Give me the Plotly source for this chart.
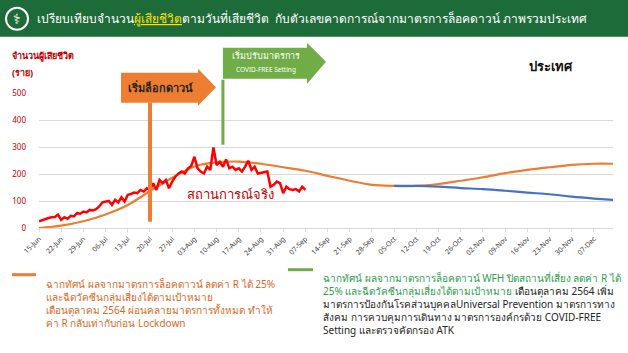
import plotly.graph_objects as go
import pandas as pd

# ---------------- data ----------------
actual_start = "2021-06-15"
actual_deaths = [25, 30, 34, 37, 40, 41, 50, 30, 40, 34, 45, 43, 55, 53, 61, 58, 67, 65, 70, 80,
                 95, 97, 100, 86, 104, 95, 114, 98, 123, 126, 131, 129, 141, 135, 147, 141, 166, 141,
                 178, 166, 178, 147, 172, 190, 202, 209, 202, 221, 230, 264, 221, 209, 202, 227, 215,
                 298, 233, 245, 227, 254, 221, 227, 215, 221, 209, 227, 249, 215, 227, 202, 204, 207,
                 209, 153, 160, 172, 166, 129, 153, 144, 141, 144, 135, 153, 141]

proj_dates = ["2021-06-15", "2021-06-22", "2021-06-29", "2021-07-06", "2021-07-13", "2021-07-20",
              "2021-07-27", "2021-08-03", "2021-08-10", "2021-08-17", "2021-08-24", "2021-08-31",
              "2021-09-07", "2021-09-14", "2021-09-21", "2021-09-28", "2021-10-05", "2021-10-12",
              "2021-10-19", "2021-10-26", "2021-11-02", "2021-11-09", "2021-11-16", "2021-11-23",
              "2021-11-30", "2021-12-07", "2021-12-13"]
proj_lockdown = [0, 9, 25, 50, 85, 137, 186, 228, 243, 246, 238, 225, 212, 193, 175, 160, 156, 156,
                 163, 175, 188, 203, 215, 225, 234, 238, 238]

covidfree_dates = ["2021-10-05", "2021-10-12", "2021-10-19", "2021-10-26", "2021-11-02", "2021-11-09",
                   "2021-11-16", "2021-11-23", "2021-11-30", "2021-12-07", "2021-12-13"]
proj_covidfree = [156, 156, 153, 148, 144, 138, 131, 125, 116, 109, 104]

tick_dates = pd.date_range("2021-06-15", "2021-12-07", freq="7D")
y_ticks = [0, 100, 200, 300, 400, 500]

lockdown_date = "2021-07-20"
covidfree_date = "2021-08-12"

# ---------------- figure ----------------
actual_dates = pd.date_range(actual_start, periods=len(actual_deaths), freq="D")

ORANGE = "#ED7D31"
GREEN = "#70AD47"
BLUE = "#4472C4"
RED = "#FF0000"
DARKRED = "#C00000"

fig = go.Figure()
fig.add_trace(go.Scatter(x=proj_dates, y=proj_lockdown, mode="lines", line=dict(color=ORANGE, width=2.2, shape="spline"),
                         hoverinfo="skip", showlegend=False))
fig.add_trace(go.Scatter(x=covidfree_dates, y=proj_covidfree, mode="lines", line=dict(color=BLUE, width=2.2, shape="spline"),
                         hoverinfo="skip", showlegend=False))
fig.add_trace(go.Scatter(x=actual_dates, y=actual_deaths, mode="lines", line=dict(color=RED, width=2.5),
                         hoverinfo="skip", showlegend=False))

# plot area geometry (pixels)
L, R, T, B = 39, 613, 93.3, 228.3
W, H = 628, 353


def px(x):
    return (x - L) / (R - L)


def py(y):
    return (B - y) / (B - T)


fig.update_layout(
    width=W, height=H,
    margin=dict(l=L, r=W - R, t=T, b=H - B),
    paper_bgcolor="white", plot_bgcolor="white",
    font=dict(family="Noto Sans, Tahoma, sans-serif"),
    xaxis=dict(range=["2021-06-15", "2021-12-13"], tickvals=tick_dates, tickformat="%d-%b",
               tickangle=-45, tickfont=dict(size=7, color="#404040"), showgrid=False,
               showline=True, linecolor="#d9d9d9", ticks="outside", ticklen=3, tickcolor="#d9d9d9",
               zeroline=False),
    yaxis=dict(range=[0, 500], tickvals=y_ticks, tickfont=dict(size=8, color=DARKRED),
               gridcolor="#d9d9d9", gridwidth=1, zeroline=False, showline=False,
               ticklabelstandoff=12),
)

shapes = []
# header bar
shapes.append(dict(type="rect", xref="paper", yref="paper", x0=px(0), x1=px(W), y0=py(37), y1=py(0),
                   fillcolor="#1E6B3A", line=dict(width=0), layer="above"))
shapes.append(dict(type="circle", xref="paper", yref="paper", x0=px(6), x1=px(28), y0=py(30), y1=py(8),
                   fillcolor="#1E6B3A", line=dict(color="white", width=2), layer="above"))
# vertical marker lines
shapes.append(dict(type="line", xref="x", yref="paper", x0=lockdown_date, x1=lockdown_date,
                   y0=py(222), y1=py(103), line=dict(color=ORANGE, width=4)))
shapes.append(dict(type="line", xref="x", yref="paper", x0=covidfree_date, x1=covidfree_date,
                   y0=py(145), y1=py(80), line=dict(color=GREEN, width=3)))


def arrow_path(x0, x1, xh, yt, yb, ht, hb, ytip):
    pts = [(x0, yt), (x1, yt), (x1, ht), (xh, ytip), (x1, hb), (x1, yb), (x0, yb)]
    s = "M " + " L ".join(f"{px(a):.5f},{py(b):.5f}" for a, b in pts) + " Z"
    return s


shapes.append(dict(type="path", xref="paper", yref="paper",
                   path=arrow_path(121, 198, 216, 73, 103, 69, 106, 87.5),
                   fillcolor=ORANGE, line=dict(width=0)))
shapes.append(dict(type="path", xref="paper", yref="paper",
                   path=arrow_path(223, 307, 326, 48, 79, 43, 84, 62),
                   fillcolor=GREEN, line=dict(width=0)))
# legend line samples
shapes.append(dict(type="line", xref="paper", yref="paper", x0=px(12), x1=px(36), y0=py(275), y1=py(275),
                   line=dict(color=ORANGE, width=3)))
shapes.append(dict(type="line", xref="paper", yref="paper", x0=px(288), x1=px(313), y0=py(270), y1=py(270),
                   line=dict(color=GREEN, width=3)))
fig.update_layout(shapes=shapes)

ann = []


def text(x, y, s, size, color, xanchor="left", yanchor="middle", align="left"):
    ann.append(dict(xref="paper", yref="paper", x=px(x), y=py(y), text=s, showarrow=False,
                    font=dict(size=size, color=color), xanchor=xanchor, yanchor=yanchor, align=align))


text(17, 19, "⚕", 14, "white", xanchor="center")
text(35, 18.5, "เปรียบเทียบจำนวน<span style='color:#FFE000'><u>ผู้เสียชีวิต</u></span>ตามวันที่เสียชีวิต  กับตัวเลขคาดการณ์จากมาตรการล็อคดาวน์ ภาพรวมประเทศ",
     12, "white")
text(10, 56, "<b>จำนวนผู้เสียชีวิต</b>", 9, DARKRED)
text(10, 73, "<b>(ราย)</b>", 9, DARKRED)
text(160, 87.5, "<b>เริ่มล็อกดาวน์</b>", 11, "#262626", xanchor="center")
text(266, 56, "เริ่มปรับมาตรการ", 9, "white", xanchor="center")
text(266, 70, "COVID-FREE Setting", 6.5, "white", xanchor="center")
text(551, 66, "<b>ประเทศ</b>", 13, "#111111", xanchor="center")
text(230, 194, "สถานการณ์จริง", 13, DARKRED, xanchor="center")

text(44, 304, "ฉากทัศน์ ผลจากมาตรการล็อคดาวน์ ลดค่า R ได้ 25%<br>และฉีดวัคซีนกลุ่มเสี่ยงได้ตามเป้าหมาย<br>"
     "เดือนตุลาคม 2564 ผ่อนคลายมาตรการทั้งหมด ทำให้<br>ค่า R กลับเท่ากับก่อน Lockdown", 10, "#D9681E")
text(321, 304, "<span style='color:#2E9E50'>ฉากทัศน์ ผลจากมาตรการล็อคดาวน์ WFH ปิดสถานที่เสี่ยง ลดค่า R ได้<br>"
     "25% และฉีดวัคซีนกลุ่มเสี่ยงได้ตามเป้าหมาย</span> เดือนตุลาคม 2564 เพิ่ม<br>"
     "มาตรการป้องกันโรคส่วนบุคคลUniversal Prevention มาตรการทาง<br>"
     "สังคม การควบคุมการเดินทาง มาตรการองค์กรด้วย COVID-FREE<br>Setting และตรวจคัดกรอง ATK", 10, "#262626")

fig.update_layout(annotations=ann)
fig.write_html("out.html")
